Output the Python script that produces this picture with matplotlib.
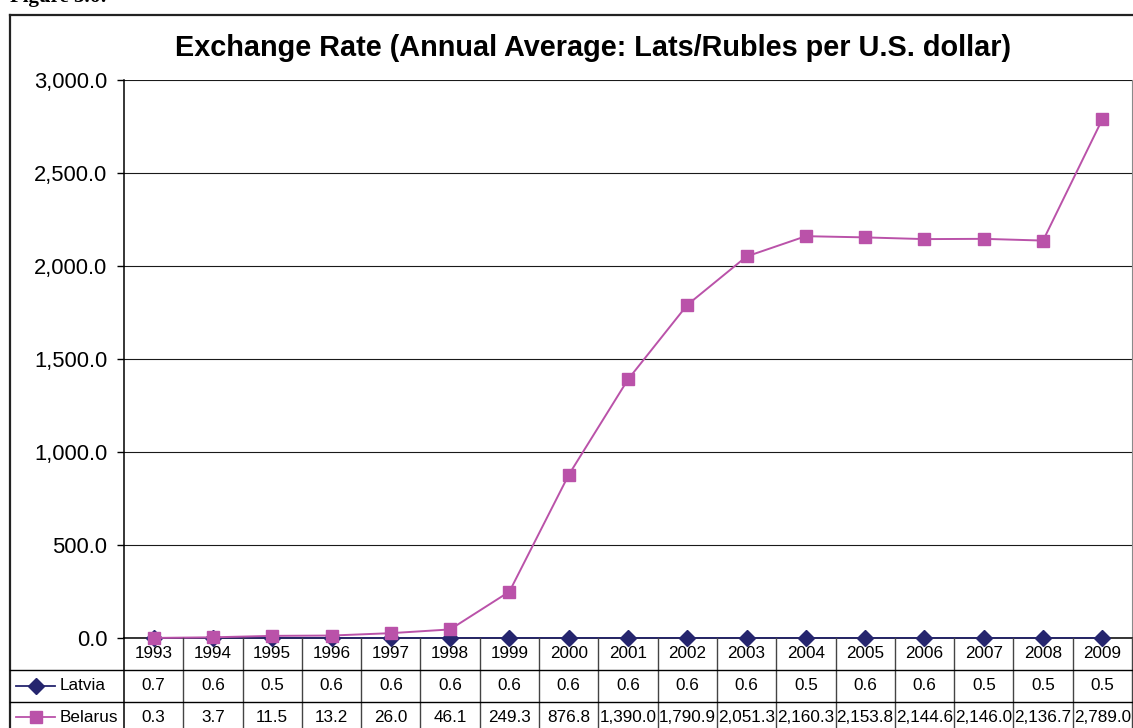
import matplotlib
matplotlib.use("Agg")
import matplotlib.pyplot as plt
from matplotlib.lines import Line2D
from matplotlib.transforms import blended_transform_factory

plt.rcParams['font.family'] = ['Liberation Sans', 'DejaVu Sans']

# ---- data -------------------------------------------------------------
years = [1993, 1994, 1995, 1996, 1997, 1998, 1999, 2000, 2001,
         2002, 2003, 2004, 2005, 2006, 2007, 2008, 2009]
latvia = [0.7, 0.6, 0.5, 0.6, 0.6, 0.6, 0.6, 0.6, 0.6,
          0.6, 0.6, 0.5, 0.6, 0.6, 0.5, 0.5, 0.5]
belarus = [0.3, 3.7, 11.5, 13.2, 26.0, 46.1, 249.3, 876.8, 1390.0,
           1790.9, 2051.3, 2160.3, 2153.8, 2144.6, 2146.0, 2136.7, 2789.0]
series_names = ["Latvia", "Belarus"]
y_ticks = [0, 500, 1000, 1500, 2000, 2500, 3000]
title = "Exchange Rate (Annual Average: Lats/Rubles per U.S. dollar)"

# ---- styling ----------------------------------------------------------
W, H = 1133, 728
LATVIA_C = "#25256E"
BELARUS_C = "#BA52A9"
GRID_C = "#1a1a1a"
TABLE_FS = 12.3


def fx(px):
    return px / W


def fy(py):
    return 1 - py / H


fig = plt.figure(figsize=(W / 100, H / 100), dpi=100)
fig.patch.set_facecolor("white")

ax = fig.add_axes([fx(124), fy(638), fx(1132) - fx(124), fy(80) - fy(638)])
x = list(range(len(years)))

ax.plot(x, latvia, color=LATVIA_C, lw=1.2, marker="D", ms=8,
        mec=LATVIA_C, mfc=LATVIA_C, clip_on=False, zorder=4)
ax.plot(x, belarus, color=BELARUS_C, lw=1.4, marker="s", ms=8.5,
        mec=BELARUS_C, mfc=BELARUS_C, clip_on=False, zorder=5)

ax.set_xlim(-0.5, len(years) - 0.5)
ax.set_ylim(0, 3000)
ax.set_yticks(y_ticks)
ax.set_yticklabels([f"{v:,.1f}" for v in y_ticks], fontsize=15.8)
ax.set_xticks([])
ax.yaxis.grid(True, color=GRID_C, lw=0.8)
ax.set_axisbelow(True)
ax.tick_params(axis="y", length=5, width=1, pad=7, color="black")

ax.spines["top"].set_visible(False)
ax.spines["right"].set_color("#8a8a8a")
ax.spines["left"].set_color("black")
ax.spines["bottom"].set_color("black")
ax.spines["left"].set_linewidth(1.1)
ax.spines["bottom"].set_linewidth(1.1)

fig.text(fx(593), fy(48), title, ha="center", va="center",
         fontsize=20.8, fontweight="bold")

# outer chart frame (left and top edges)
fig.add_artist(Line2D([fx(10), fx(10)], [fy(15), fy(H + 2)], color="#222222", lw=1.6))
fig.add_artist(Line2D([fx(10), fx(W + 2)], [fy(15), fy(15)], color="#222222", lw=1.6))

# figure caption above the frame (only its lower edge is inside the page)
fig.text(fx(10), fy(2), "Figure 3.6:", ha="left", va="baseline",
         fontsize=15, fontweight="bold", family=["Liberation Serif", "DejaVu Serif"])

# ---- data table under the axis ---------------------------------------
bt = blended_transform_factory(ax.transData, fig.transFigure)
row_tops = [638, 670, 702]
row_mid = [654, 686, 717]

# column separators
for k in range(len(years) + 1):
    xb = k - 0.5
    col = "black" if k == 0 else "#444444"
    fig.add_artist(Line2D([xb, xb], [fy(638), fy(H + 2)], transform=bt,
                          color=col, lw=1.0 if k else 1.1))
# row separators
for py in row_tops[1:]:
    fig.add_artist(Line2D([fx(10), fx(1132)], [fy(py), fy(py)],
                          color="black", lw=1.0))

for i, yr in enumerate(years):
    fig.text(i, fy(row_mid[0]), str(yr), transform=bt, ha="center",
             va="center", fontsize=TABLE_FS)
    fig.text(i, fy(row_mid[1]), f"{latvia[i]:,.1f}", transform=bt,
             ha="center", va="center", fontsize=TABLE_FS)
    fig.text(i, fy(row_mid[2]), f"{belarus[i]:,.1f}", transform=bt,
             ha="center", va="center", fontsize=TABLE_FS)

# legend keys inside the table row headers
for name, col, mk, ms, py in [(series_names[0], LATVIA_C, "D", 8, row_mid[1]),
                              (series_names[1], BELARUS_C, "s", 8.5, row_mid[2])]:
    fig.add_artist(Line2D([fx(16), fx(55)], [fy(py), fy(py)], color=col, lw=1.3))
    fig.add_artist(Line2D([fx(36)], [fy(py)], color=col, marker=mk, ms=ms,
                          mfc=col, mec=col, lw=0))
    fig.text(fx(60), fy(py), name, ha="left", va="center", fontsize=TABLE_FS)

fig.savefig("out.png", dpi=100)
